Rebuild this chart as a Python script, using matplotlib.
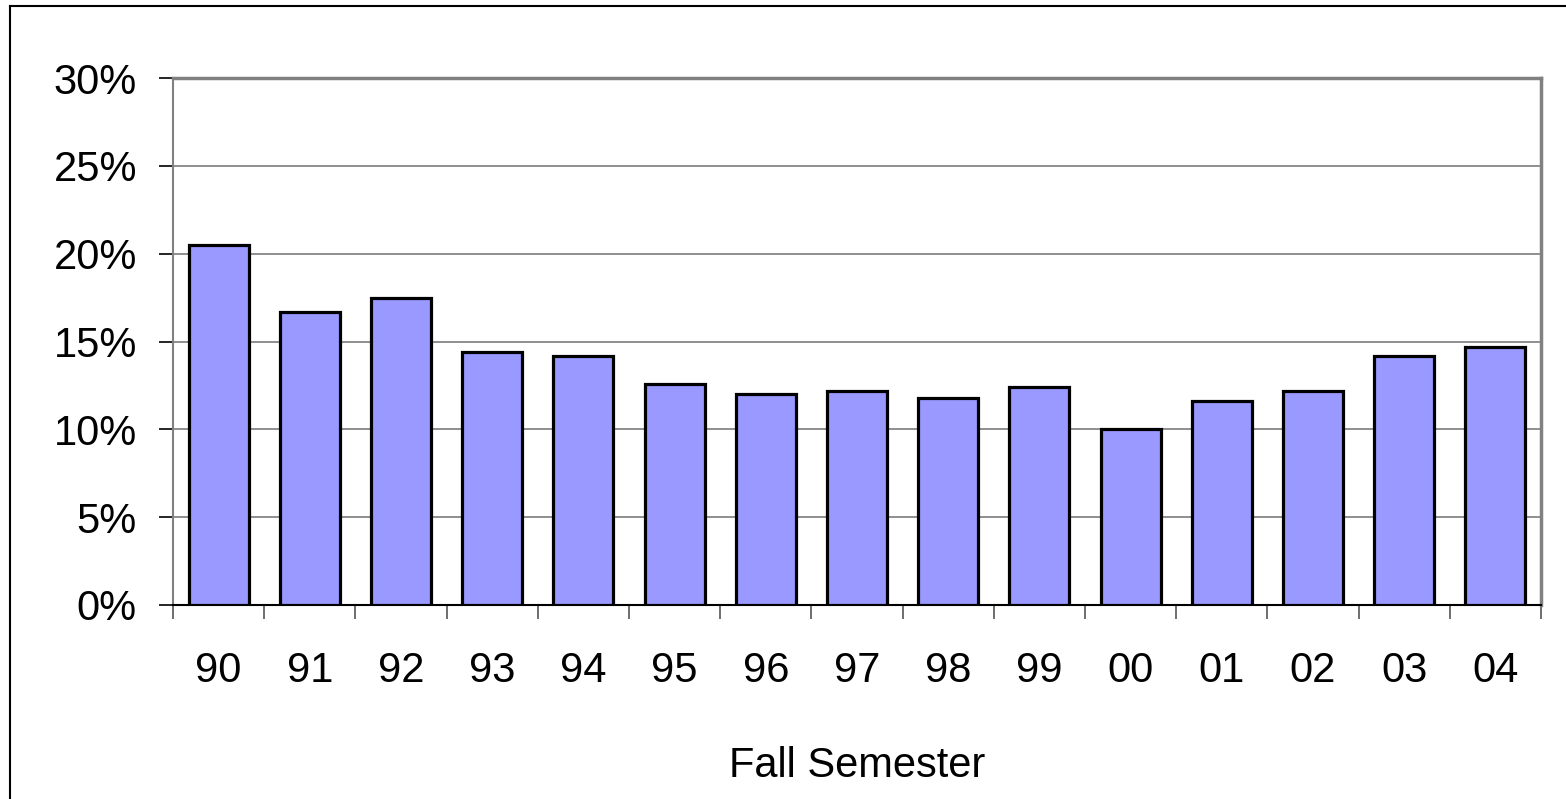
import matplotlib.pyplot as plt
from matplotlib.lines import Line2D
from matplotlib.ticker import FuncFormatter, FixedLocator

years = ['90', '91', '92', '93', '94', '95', '96', '97', '98', '99',
         '00', '01', '02', '03', '04']
rates = [20.5, 16.7, 17.5, 14.4, 14.2, 12.6, 12.0, 12.2, 11.8, 12.4,
         10.0, 11.6, 12.2, 14.2, 14.7]
y_ticks = [0, 5, 10, 15, 20, 25, 30]

W, H = 1566, 799
plt.rcParams['font.family'] = ['Liberation Sans', 'DejaVu Sans']

fig = plt.figure(figsize=(W / 100, H / 100), dpi=100)
ax = fig.add_axes([173 / W, 1 - 605 / H, (1541 - 173) / W, (605 - 78) / H])

x = list(range(len(years)))
ax.bar(x, rates, width=0.66, color='#9999FF', edgecolor='black',
       linewidth=2.3, zorder=3)

ax.set_xlim(-0.5, len(years) - 0.5)
ax.set_ylim(0, 30)
ax.yaxis.set_major_locator(FixedLocator(y_ticks))
ax.yaxis.set_major_formatter(FuncFormatter(lambda v, p: f'{v:.0f}%'))
ax.grid(axis='y', color='#707070', linewidth=1.1, zorder=0)

# category labels centred, tick marks between categories
ax.set_xticks(x)
ax.set_xticklabels(years)
ax.set_xticks([i - 0.5 for i in range(len(years) + 1)], minor=True)
ax.tick_params(axis='x', which='major', length=0, pad=33, labelsize=30)
ax.tick_params(axis='x', which='minor', length=10, width=1.2,
               color='#555555', direction='out')
ax.tick_params(axis='y', length=10, width=1.2, color='black',
               direction='out', pad=16, labelsize=30)

ax.spines['bottom'].set_color('black')
ax.spines['bottom'].set_linewidth(1.5)
for side in ['left', 'top', 'right']:
    ax.spines[side].set_color('#808080')
ax.spines['left'].set_linewidth(1.5)
ax.spines['top'].set_linewidth(2.5)
ax.spines['right'].set_linewidth(2.5)

ax.set_xlabel('Fall Semester', fontsize=30, labelpad=40)

# outer chart border (left and top edges visible)
fig.add_artist(Line2D([10 / W, 10 / W], [0, 1 - 6 / H], color='black',
                      linewidth=1.5, transform=fig.transFigure))
fig.add_artist(Line2D([10 / W, 1], [1 - 6 / H, 1 - 6 / H], color='black',
                      linewidth=1.5, transform=fig.transFigure))

fig.savefig('out.png', dpi=100)
